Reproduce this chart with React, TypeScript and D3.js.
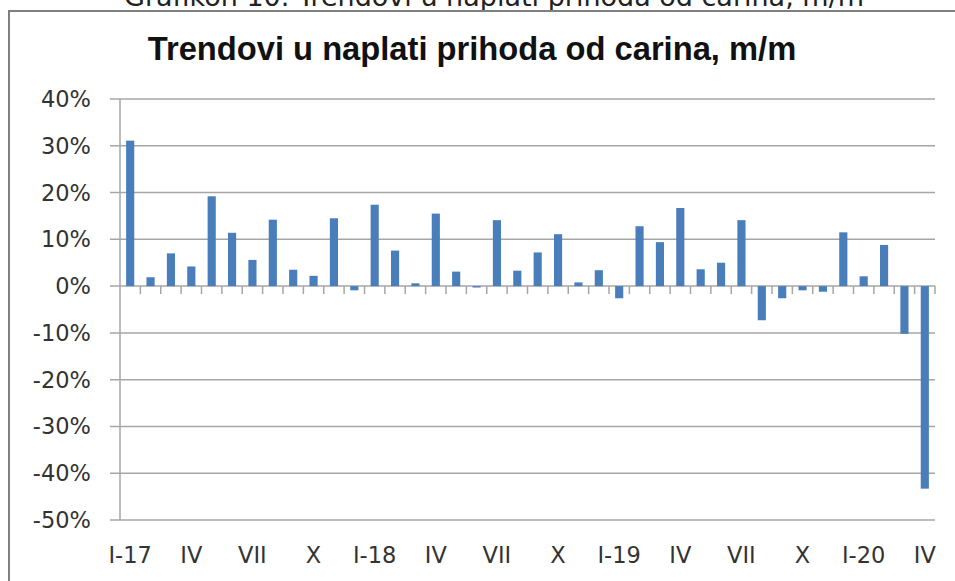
import React from "react";
import * as d3 from "d3";

const months = ["I", "II", "III", "IV", "V", "VI", "VII", "VIII", "IX", "X", "XI", "XII"];
const years = ["17", "18", "19", "20"];
const categories: string[] = [];
years.forEach((yy) => {
  months.forEach((m, i) => {
    if (yy === "20" && i > 3) return;
    categories.push(i === 0 ? `${m}-${yy}` : m);
  });
});

const values = [
  31.1, 1.9, 7.0, 4.2, 19.2, 11.4, 5.6, 14.2, 3.5, 2.2, 14.5, -0.9,
  17.4, 7.6, 0.6, 15.5, 3.1, -0.3, 14.1, 3.3, 7.2, 11.1, 0.8, 3.4,
  -2.6, 12.8, 9.4, 16.7, 3.6, 5.0, 14.1, -7.3, -2.6, -0.9, -1.2, 11.5,
  2.1, 8.8, -10.2, -43.3,
];

const yTicks = [40, 30, 20, 10, 0, -10, -20, -30, -40, -50];

const caption = "Grafikon 10. Trendovi u naplati prihoda od carina, m/m";
const title = "Trendovi u naplati prihoda od carina, m/m";

export default function App() {
  const W = 955;
  const H = 581;
  const left = 120;
  const right = 935;
  const top = 99;
  const bottom = 520;

  const x = d3
    .scaleBand<number>()
    .domain(d3.range(categories.length))
    .range([left, right])
    .paddingInner(0.6)
    .paddingOuter(0.3);
  const step = x.step();
  const y = d3.scaleLinear().domain([-50, 40]).range([bottom, top]);
  const y0 = y(0);
  const grid = "#a6a6a6";
  const font = "'DejaVu Sans', Verdana, sans-serif";

  return (
    <svg
      width={W}
      height={H}
      style={{ position: "absolute", left: 0, top: 0, display: "block", background: "#fff" }}
    >
      {/* caption, cut off at the top as in the source */}
      <text
        x={494}
        y={6}
        textAnchor="middle"
        fontFamily={font}
        fontSize={27}
        fill="#222"
      >
        {caption}
      </text>
      {/* chart frame */}
      <line x1={8} x2={W} y1={11} y2={11} stroke="#7f7f7f" strokeWidth={2} />
      <line x1={9} x2={9} y1={11} y2={H} stroke="#7f7f7f" strokeWidth={2} />

      <text
        x={472}
        y={60}
        textAnchor="middle"
        fontFamily="'Liberation Sans', Arial, sans-serif"
        fontWeight="bold"
        fontSize={32.7}
        fill="#111"
      >
        {title}
      </text>

      {/* gridlines & y labels */}
      {yTicks.map((t) => (
        <g key={t}>
          <line x1={110} x2={right} y1={y(t)} y2={y(t)} stroke={grid} strokeWidth={1.5} />
          <text
            x={91}
            y={y(t) + 8}
            textAnchor="end"
            fontFamily={font}
            fontSize={22.5}
            fill="#333"
          >
            {`${t}%`}
          </text>
        </g>
      ))}
      {/* y axis */}
      <line x1={left} x2={left} y1={top} y2={bottom} stroke={grid} strokeWidth={1.5} />

      {/* x ticks at category boundaries */}
      {d3.range(1, categories.length + 1).map((i) => {
        const xx = left + i * step;
        return (
          <line key={i} x1={xx} x2={xx} y1={y0} y2={y0 + 8} stroke={grid} strokeWidth={1.5} />
        );
      })}

      {/* bars */}
      {values.map((v, i) => (
        <rect
          key={i}
          x={x(i)}
          width={x.bandwidth()}
          y={Math.min(y(v), y0)}
          height={Math.abs(y(v) - y0)}
          fill="#4a7ebb"
        />
      ))}

      {/* x labels */}
      {categories.map((c, i) =>
        i % 3 === 0 ? (
          <text
            key={i}
            x={(x(i) as number) + x.bandwidth() / 2}
            y={563}
            textAnchor="middle"
            fontFamily={font}
            fontSize={22.5}
            fill="#333"
          >
            {c}
          </text>
        ) : null
      )}
    </svg>
  );
}
